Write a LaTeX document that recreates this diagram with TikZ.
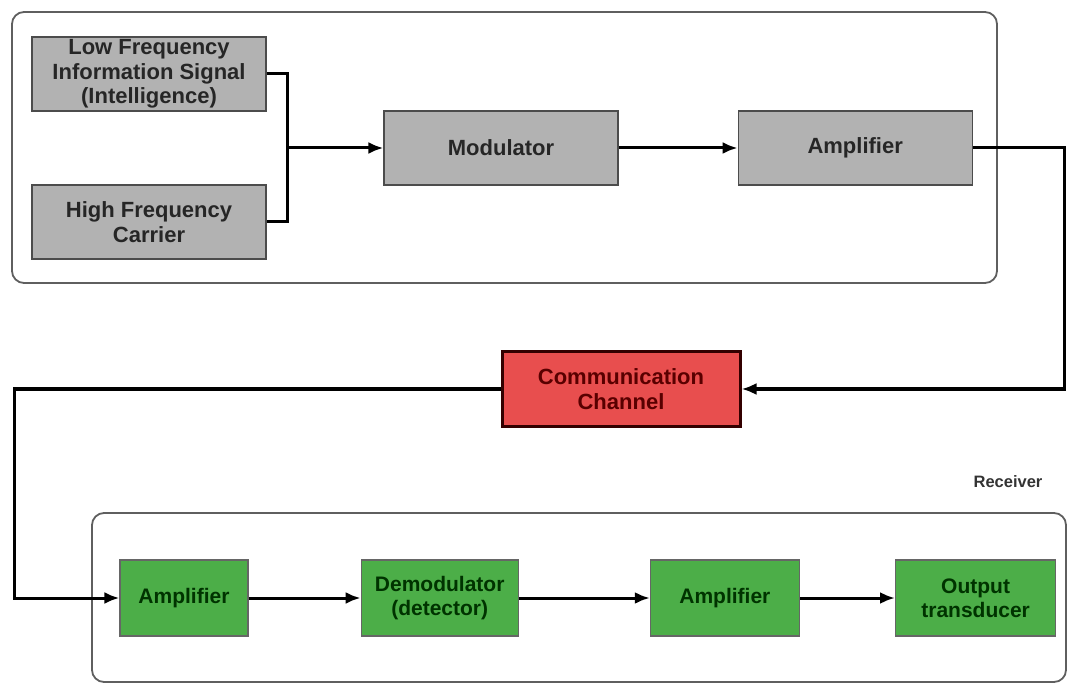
\documentclass[tikz,border=0pt]{standalone}
\usepackage{fontspec}
\setmainfont{Liberation Sans}
\usetikzlibrary{arrows,arrows.meta,positioning}

\definecolor{boxgrey}{RGB}{178,178,178}
\definecolor{boxgreen}{RGB}{76,174,72}
\definecolor{boxred}{RGB}{232,78,78}
\definecolor{framegrey}{RGB}{95,95,95}

\begin{document}
\begin{tikzpicture}[x=1pt,y=-1pt,->,>={Latex[length=15pt,width=12pt]},line width=3pt,
                    font=\bfseries\fontsize{22}{24.5}\selectfont]

  \tikzstyle{frame} = [draw=framegrey,line width=1.8pt,rounded corners=12pt,-]
  \tikzstyle{tx} = [draw=black!70,fill=boxgrey,line width=1.2pt,text=black!85,
                    align=center,minimum width=234pt,minimum height=74pt,inner sep=0pt]
  \tikzstyle{rx} = [draw=black!60,fill=boxgreen,line width=1.2pt,text=black!80!green,
                    font=\bfseries\fontsize{21}{24}\selectfont,
                    align=center,minimum height=76pt,inner sep=0pt]
  \tikzstyle{channel} = [draw=black!80!red,fill=boxred,line width=3pt,text=black!65!red,
                    align=center,minimum width=238pt,minimum height=74pt,inner sep=0pt]

  \useasboundingbox (0,0) rectangle (1068,684);

  \draw[frame] (12,12) rectangle (997,283);
  \draw[frame] (92,513) rectangle (1066,682);

  \node[tx]      (LF)                        at (149,74)  {Low Frequency\\Information Signal\\(Intelligence)};
  \node[tx]      (HF)                        at (149,222) {High Frequency\\Carrier};
  \node[tx]      (MOD)                       at (501,148) {Modulator};
  \node[tx]      (TAMP) [right=119pt of MOD]              {Amplifier};
  \node[channel] (CH)                        at (621,389) {Communication\\Channel};
  \node[rx,minimum width=128pt] (RAMP)       at (184,598) {Amplifier};
  \node[rx,minimum width=157pt] (DEM) [right=112pt of RAMP] {Demodulator\\(detector)};
  \node[rx,minimum width=149pt] (RAMPB) [right=131pt of DEM] {Amplifier};
  \node[rx,minimum width=160pt] (OUT) [right=95pt of RAMPB]  {Output\\transducer};
  \node[font=\bfseries\fontsize{16.5}{19}\selectfont,text=black!80] (RXL) at (1008,482) {Receiver};

  \coordinate (J)  at (287,148);
  \coordinate (RE) at (1064,389);
  \coordinate (LE) at (14,598);

  \draw[-] (LF.east) -| (J);
  \draw[-] (HF.east) -| (J);
  \path (J)     edge (MOD)
        (MOD)   edge (TAMP)
        (RAMP)  edge (DEM)
        (DEM)   edge (RAMPB)
        (RAMPB) edge (OUT);
  \draw (TAMP.east) -| (RE) -- (CH.east);
  \draw (CH.west) -| (LE) -- (RAMP.west);

\end{tikzpicture}
\end{document}
